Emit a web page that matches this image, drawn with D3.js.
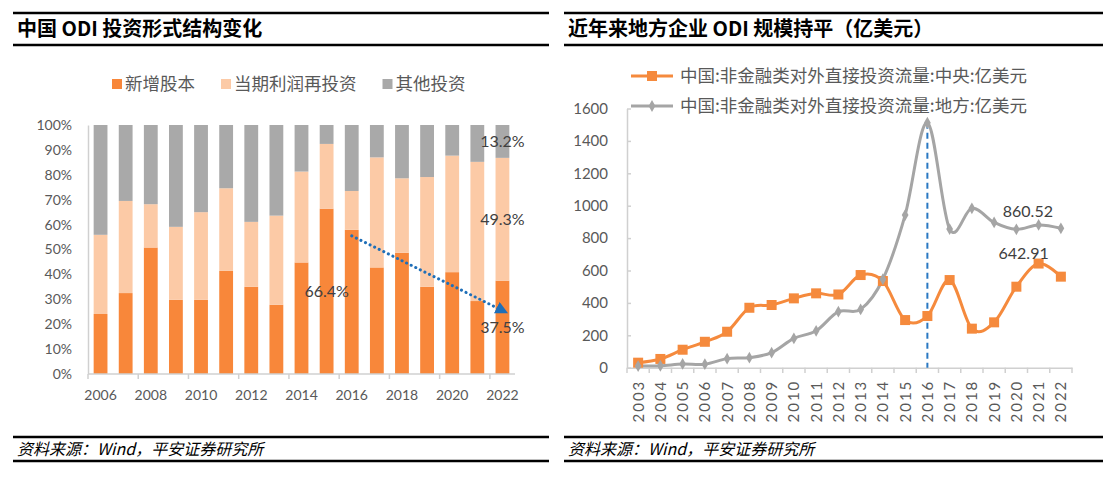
<!DOCTYPE html>
<html>
<head>
<meta charset="utf-8">
<script src="https://cdn.jsdelivr.net/npm/d3@7"></script>
<style>
  body { margin: 0; background: #fff; }
  svg { display: block; font-family: "Noto Sans CJK SC", sans-serif; }
</style>
</head>
<body>
<svg id="chart" width="1114" height="483"></svg>
<script>
// left chart: share of each ODI form, %
const shareYears = [2006, 2007, 2008, 2009, 2010, 2011, 2012, 2013, 2014, 2015, 2016, 2017, 2018, 2019, 2020, 2021, 2022];
const equityShare = [24.1, 32.5, 50.8, 29.8, 29.8, 41.4, 35.0, 27.8, 44.8, 66.4, 57.9, 42.8, 48.7, 35.0, 40.9, 29.3, 37.5];
const reinvestShare = [31.8, 37.0, 17.4, 29.3, 35.2, 33.2, 26.1, 35.8, 36.5, 26.0, 15.6, 44.2, 29.9, 44.1, 46.8, 55.9, 49.3];
const otherShare = [44.1, 30.5, 31.8, 40.9, 35.0, 25.4, 38.9, 36.4, 18.7, 7.6, 26.5, 13.0, 21.4, 20.9, 12.3, 14.8, 13.2];
const shareSeries = ['新增股本', '当期利润再投资', '其他投资'];
const shareTicks = [0, 10, 20, 30, 40, 50, 60, 70, 80, 90, 100];
const labelledBars = [[2015, 0], [2022, 0], [2022, 1], [2022, 2]];
const trendFrom = [2016, 55.5];
const trendTo = [2022, 25.5];

// right chart: non-financial ODI flows, 100m USD
const odiYears = [2003, 2004, 2005, 2006, 2007, 2008, 2009, 2010, 2011, 2012, 2013, 2014, 2015, 2016, 2017, 2018, 2019, 2020, 2021, 2022];
const centralOdi = [31, 54, 111, 160, 222, 370, 387, 428, 459, 452, 572, 535, 294, 319, 541, 241, 280, 500, 642.91, 562];
const localOdi = [10, 12, 23, 22, 56, 62, 93, 181, 228, 346, 360, 546, 942, 1512, 856, 984, 897, 854, 881, 860.52];
const odiSeries = ['中国:非金融类对外直接投资流量:中央:亿美元', '中国:非金融类对外直接投资流量:地方:亿美元'];
const odiTicks = [0, 200, 400, 600, 800, 1000, 1200, 1400, 1600];
const peakYear = 2016;

const svg = d3.select('#chart');
const numFont = 'Lato, "Liberation Sans", sans-serif';
const axisGrey = '#d0d0d0';
const textGrey = '#595959';

function panelFrame(x0, x1, title) {
    [13, 45, 437, 461].forEach(y => {
        svg.append('line').attr('x1', x0).attr('x2', x1).attr('y1', y).attr('y2', y)
            .attr('stroke', '#000').attr('stroke-width', 2.5);
    });
    svg.append('text').attr('x', x0 + 4).attr('y', 36)
        .attr('font-size', 20).attr('font-weight', 700).attr('fill', '#000')
        .text(title);
    svg.append('text').attr('x', x0 + 4).attr('y', 455)
        .attr('font-size', 16).attr('font-style', 'italic').attr('fill', '#000')
        .text('资料来源：Wind，平安证券研究所');
}

panelFrame(13, 549, '中国 ODI 投资形式结构变化');
panelFrame(564, 1103, '近年来地方企业 ODI 规模持平（亿美元）');

// ---------- left: stacked 100% bars ----------
const barColors = ['#F8873A', '#FCCAA6', '#A9A9A9'];
const rows = shareYears.map((yr, i) => ({ year: yr, s0: equityShare[i], s1: reinvestShare[i], s2: otherShare[i] }));
const stacked = d3.stack().keys(['s0', 's1', 's2'])(rows);

const xL = d3.scaleBand().domain(shareYears).range([88, 515]).paddingInner(0.45).paddingOuter(0.225);
const yL = d3.scaleLinear().domain([0, 100]).range([374, 125]);

const left = svg.append('g');
left.selectAll('g.layer')
    .data(stacked)
    .join('g')
    .attr('fill', (d, i) => barColors[i])
    .selectAll('rect')
    .data(d => d)
    .join('rect')
    .attr('x', d => xL(d.data.year))
    .attr('width', xL.bandwidth())
    .attr('y', d => yL(d[1]))
    .attr('height', d => yL(d[0]) - yL(d[1]));

const yAxisL = left.append('g').attr('transform', 'translate(88,0)')
    .call(d3.axisLeft(yL).tickValues(shareTicks).tickFormat(d => d + '%').tickSize(0).tickPadding(16));
yAxisL.select('.domain').attr('stroke', axisGrey).attr('stroke-width', 1.5);
yAxisL.selectAll('text').attr('font-family', numFont).attr('font-size', 14).attr('fill', textGrey);

const xAxisL = left.append('g').attr('transform', 'translate(0,374)')
    .call(d3.axisBottom(xL).tickValues(shareYears.filter(y => y % 2 === 0)).tickSize(0).tickPadding(16).tickSizeOuter(0));
xAxisL.select('.domain').attr('d', `M88,0H515`).attr('stroke', axisGrey).attr('stroke-width', 1.5);
xAxisL.selectAll('text').attr('font-family', numFont).attr('font-size', 14).attr('fill', textGrey);
// boundary ticks every other category
const stepL = xL.step();
left.selectAll('line.btick')
    .data(shareYears.filter((y, i) => i % 2 === 0))
    .join('line')
    .attr('x1', d => xL(d) - xL.paddingInner() * stepL / 2)
    .attr('x2', d => xL(d) - xL.paddingInner() * stepL / 2)
    .attr('y1', 374).attr('y2', 379)
    .attr('stroke', axisGrey).attr('stroke-width', 1.5);

// value labels at segment centres
left.selectAll('text.vlab')
    .data(labelledBars)
    .join('text')
    .attr('x', d => xL(d[0]) + xL.bandwidth() / 2)
    .attr('y', d => {
        const layer = stacked[d[1]][shareYears.indexOf(d[0])];
        return yL((layer[0] + layer[1]) / 2);
    })
    .attr('dy', '0.35em')
    .attr('text-anchor', 'middle')
    .attr('font-family', numFont).attr('font-size', 16).attr('fill', '#404040')
    .text(d => {
        const i = shareYears.indexOf(d[0]);
        return [equityShare, reinvestShare, otherShare][d[1]][i].toFixed(1) + '%';
    });

// dotted trend arrow
svg.append('defs').append('marker')
    .attr('id', 'tri').attr('viewBox', '0 0 10 10').attr('refX', 5).attr('refY', 5)
    .attr('markerWidth', 4.2).attr('markerHeight', 4.2).attr('orient', 'auto')
    .attr('markerUnits', 'strokeWidth')
    .append('path').attr('d', 'M0,0L10,5L0,10Z').attr('fill', '#1F6FB8');
left.append('line')
    .attr('x1', xL(trendFrom[0]) + xL.bandwidth() / 2).attr('y1', yL(trendFrom[1]))
    .attr('x2', xL(trendTo[0]) + xL.bandwidth() / 2).attr('y2', yL(trendTo[1]))
    .attr('stroke', '#1F6FB8').attr('stroke-width', 3)
    .attr('stroke-dasharray', '0.1 5').attr('stroke-linecap', 'round')
    .attr('marker-end', 'url(#tri)');

// legend
let lx = 112;
shareSeries.forEach((name, i) => {
    left.append('rect').attr('x', lx).attr('y', 79).attr('width', 10).attr('height', 10).attr('fill', barColors[i]);
    const t = left.append('text').attr('x', lx + 13).attr('y', 84).attr('dy', '0.35em')
        .attr('font-size', 17.5).attr('fill', textGrey).text(name);
    lx += 13 + t.node().getComputedTextLength() + 26;
});

// ---------- right: smoothed lines ----------
const lineColors = ['#F58A3D', '#A5A5A5'];
const xR = d3.scaleBand().domain(odiYears).range([627, 1072]);
const yR = d3.scaleLinear().domain([0, 1600]).range([367.7, 108.5]);
const cx = yr => xR(yr) + xR.bandwidth() / 2;

const right = svg.append('g');

const yAxisR = right.append('g').attr('transform', 'translate(627,0)')
    .call(d3.axisLeft(yR).tickValues(odiTicks).tickFormat(d3.format('d')).tickSize(-4).tickPadding(19).tickSizeOuter(0));
yAxisR.select('.domain').attr('stroke', axisGrey).attr('stroke-width', 1.5);
yAxisR.selectAll('.tick line').attr('stroke', axisGrey).attr('stroke-width', 1.5);
yAxisR.selectAll('text').attr('font-family', numFont).attr('font-size', 15).attr('fill', textGrey);

const xAxisR = right.append('g').attr('transform', 'translate(0,367.7)')
    .call(d3.axisBottom(xR).tickSize(0).tickSizeOuter(0));
xAxisR.select('.domain').attr('stroke', axisGrey).attr('stroke-width', 1.5);
xAxisR.selectAll('text')
    .attr('transform', 'rotate(-90)')
    .attr('text-anchor', 'end')
    .attr('x', -12).attr('y', 0).attr('dy', '0.36em')
    .attr('font-family', numFont).attr('font-size', 15).attr('letter-spacing', 2)
    .attr('fill', textGrey);
right.selectAll('line.btick')
    .data(odiYears.concat([null]))
    .join('line')
    .attr('x1', (d, i) => 627 + i * xR.step())
    .attr('x2', (d, i) => 627 + i * xR.step())
    .attr('y1', 367.7).attr('y2', 373)
    .attr('stroke', axisGrey).attr('stroke-width', 1.5);

// dashed marker of the 2016 peak
right.append('line')
    .attr('x1', cx(peakYear)).attr('x2', cx(peakYear))
    .attr('y1', yR(localOdi[odiYears.indexOf(peakYear)])).attr('y2', yR(0))
    .attr('stroke', '#2A78C2').attr('stroke-width', 2).attr('stroke-dasharray', '6 4');

const lineGen = d3.line().x((d, i) => cx(odiYears[i])).y(d => yR(d)).curve(d3.curveCardinal.tension(0));

[centralOdi, localOdi].forEach((vals, s) => {
    right.append('path').datum(vals)
        .attr('d', lineGen)
        .attr('fill', 'none').attr('stroke', lineColors[s]).attr('stroke-width', 3);
});
right.selectAll('rect.sq')
    .data(centralOdi)
    .join('rect')
    .attr('x', (d, i) => cx(odiYears[i]) - 5).attr('y', d => yR(d) - 5)
    .attr('width', 10).attr('height', 10).attr('fill', lineColors[0]);
right.selectAll('path.dia')
    .data(localOdi)
    .join('path')
    .attr('d', d3.symbol(d3.symbolDiamond, 40))
    .attr('transform', (d, i) => `translate(${cx(odiYears[i])},${yR(d)})`)
    .attr('fill', lineColors[1]);

// value labels
right.append('text')
    .attr('x', cx(2021) - 15).attr('y', yR(centralOdi[odiYears.indexOf(2021)]) - 5)
    .attr('text-anchor', 'middle')
    .attr('font-family', numFont).attr('font-size', 16).attr('fill', '#404040')
    .text(centralOdi[odiYears.indexOf(2021)].toFixed(2));
right.append('text')
    .attr('x', cx(2022) - 33).attr('y', yR(localOdi[odiYears.indexOf(2022)]) - 11)
    .attr('text-anchor', 'middle')
    .attr('font-family', numFont).attr('font-size', 16).attr('fill', '#404040')
    .text(localOdi[odiYears.indexOf(2022)].toFixed(2));

// legend
odiSeries.forEach((name, s) => {
    const ly = 76 + s * 30;
    right.append('line').attr('x1', 631).attr('x2', 673).attr('y1', ly).attr('y2', ly)
        .attr('stroke', lineColors[s]).attr('stroke-width', 3);
    if (s === 0) {
        right.append('rect').attr('x', 647).attr('y', ly - 5).attr('width', 10).attr('height', 10).attr('fill', lineColors[0]);
    } else {
        right.append('path').attr('d', d3.symbol(d3.symbolDiamond, 40)).attr('transform', `translate(652,${ly})`).attr('fill', lineColors[1]);
    }
    right.append('text').attr('x', 680).attr('y', ly).attr('dy', '0.35em')
        .attr('font-size', 17.5).attr('fill', textGrey).text(name);
});
</script>
</body>
</html>
